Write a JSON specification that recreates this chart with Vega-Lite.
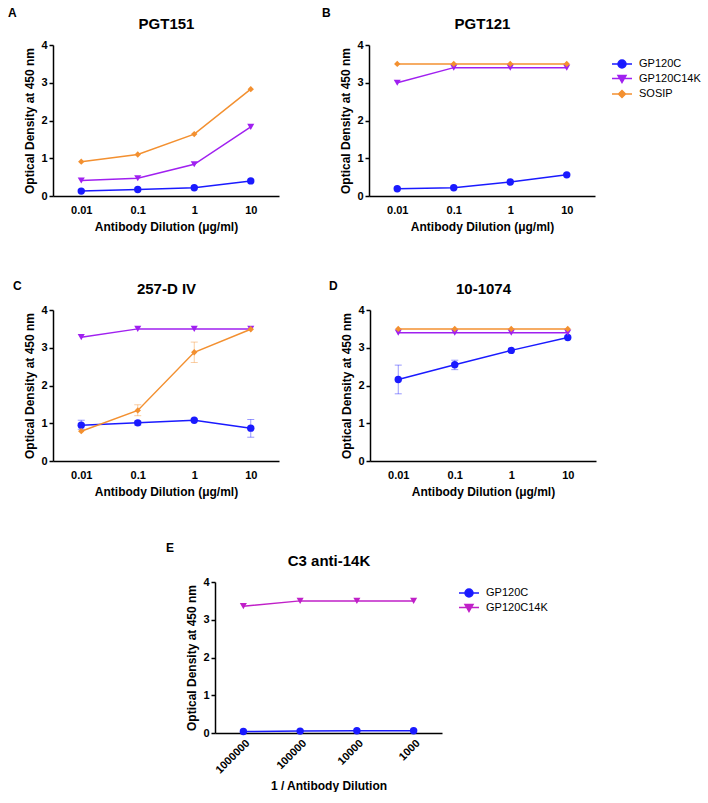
{
  "$schema": "https://vega.github.io/schema/vega-lite/v6.json",
  "padding": {"left": 7, "top": 7, "right": 0, "bottom": 0},
  "config": {
    "font": "Liberation Sans",
    "view": {"stroke": null},
    "axis": {"labelFont": "Liberation Sans", "labelFontWeight": "bold", "labelFontSize": 11, "labelColor": "#000", "titleFont": "Liberation Sans", "titleFontWeight": "bold", "titleFontSize": 12, "titleColor": "#000", "domainColor": "#000", "domainWidth": 1.5, "tickColor": "#000", "tickWidth": 1.5, "grid": false},
    "axisX": {"ticks": false, "labelAngle": 0, "labelPadding": 8, "titlePadding": 6},
    "axisY": {"tickSize": 4, "labelPadding": 2, "titlePadding": 4},
    "title": {"font": "Liberation Sans", "fontSize": 12, "fontWeight": "bold", "color": "#000"},
    "legend": {"labelFont": "Liberation Sans", "labelFontSize": 11, "labelColor": "#000", "symbolSize": 100, "labelOffset": 11, "rowPadding": 1.5}
  },
  "datasets": {
    "A": [
      {"x": "0.01", "s": "GP120C", "v": 0.13}, {"x": "0.1", "s": "GP120C", "v": 0.17}, {"x": "1", "s": "GP120C", "v": 0.22}, {"x": "10", "s": "GP120C", "v": 0.40},
      {"x": "0.01", "s": "GP120C14K", "v": 0.41}, {"x": "0.1", "s": "GP120C14K", "v": 0.47}, {"x": "1", "s": "GP120C14K", "v": 0.84}, {"x": "10", "s": "GP120C14K", "v": 1.83},
      {"x": "0.01", "s": "SOSIP", "v": 0.91}, {"x": "0.1", "s": "SOSIP", "v": 1.10}, {"x": "1", "s": "SOSIP", "v": 1.64}, {"x": "10", "s": "SOSIP", "v": 2.83}
    ],
    "B": [
      {"x": "0.01", "s": "GP120C", "v": 0.19}, {"x": "0.1", "s": "GP120C", "v": 0.22}, {"x": "1", "s": "GP120C", "v": 0.37}, {"x": "10", "s": "GP120C", "v": 0.56},
      {"x": "0.01", "s": "GP120C14K", "v": 3.0}, {"x": "0.1", "s": "GP120C14K", "v": 3.4}, {"x": "1", "s": "GP120C14K", "v": 3.4}, {"x": "10", "s": "GP120C14K", "v": 3.4},
      {"x": "0.01", "s": "SOSIP", "v": 3.5}, {"x": "0.1", "s": "SOSIP", "v": 3.5}, {"x": "1", "s": "SOSIP", "v": 3.5}, {"x": "10", "s": "SOSIP", "v": 3.5}
    ],
    "C": [
      {"x": "0.01", "s": "GP120C", "v": 0.95, "lo": 0.84, "hi": 1.08}, {"x": "0.1", "s": "GP120C", "v": 1.01, "lo": 0.95, "hi": 1.06}, {"x": "1", "s": "GP120C", "v": 1.08}, {"x": "10", "s": "GP120C", "v": 0.87, "lo": 0.63, "hi": 1.10},
      {"x": "0.01", "s": "GP120C14K", "v": 3.28}, {"x": "0.1", "s": "GP120C14K", "v": 3.5}, {"x": "1", "s": "GP120C14K", "v": 3.5}, {"x": "10", "s": "GP120C14K", "v": 3.5},
      {"x": "0.01", "s": "SOSIP", "v": 0.79}, {"x": "0.1", "s": "SOSIP", "v": 1.34, "lo": 1.2, "hi": 1.49}, {"x": "1", "s": "SOSIP", "v": 2.88, "lo": 2.61, "hi": 3.15}, {"x": "10", "s": "SOSIP", "v": 3.49}
    ],
    "D": [
      {"x": "0.01", "s": "GP120C", "v": 2.16, "lo": 1.78, "hi": 2.54}, {"x": "0.1", "s": "GP120C", "v": 2.55, "lo": 2.42, "hi": 2.67}, {"x": "1", "s": "GP120C", "v": 2.93}, {"x": "10", "s": "GP120C", "v": 3.27},
      {"x": "0.01", "s": "GP120C14K", "v": 3.4}, {"x": "0.1", "s": "GP120C14K", "v": 3.4}, {"x": "1", "s": "GP120C14K", "v": 3.4}, {"x": "10", "s": "GP120C14K", "v": 3.4},
      {"x": "0.01", "s": "SOSIP", "v": 3.5}, {"x": "0.1", "s": "SOSIP", "v": 3.5}, {"x": "1", "s": "SOSIP", "v": 3.5}, {"x": "10", "s": "SOSIP", "v": 3.5}
    ],
    "E": [
      {"x": "1000000", "s": "GP120C", "v": 0.04}, {"x": "100000", "s": "GP120C", "v": 0.05}, {"x": "10000", "s": "GP120C", "v": 0.06}, {"x": "1000", "s": "GP120C", "v": 0.06},
      {"x": "1000000", "s": "GP120C14K", "v": 3.36}, {"x": "100000", "s": "GP120C14K", "v": 3.5}, {"x": "10000", "s": "GP120C14K", "v": 3.5}, {"x": "1000", "s": "GP120C14K", "v": 3.5}
    ]
  },
  "vconcat": [
    {
      "hconcat": [
        {
          "width": 226, "height": 151,
          "title": {"text": "A", "anchor": "start", "offset": -4, "dx": -16},
          "data": {"name": "A"},
          "encoding": {
            "x": {"field": "x", "type": "ordinal", "sort": ["0.01", "0.1", "1", "10"], "scale": {"type": "point", "padding": 0.5}, "axis": null},
            "y": {"field": "v", "type": "quantitative", "scale": {"domain": [0, 4], "nice": false}, "axis": {"values": [0, 1, 2, 3, 4]}, "title": "Optical Density at 450 nm"},
            "color": {"field": "s", "type": "nominal", "scale": {"domain": ["GP120C", "GP120C14K", "SOSIP"], "range": ["#1a1aff", "#a020f0", "#f39030"]}, "legend": null}
          },
          "layer": [
            {"mark": {"type": "line", "strokeWidth": 1.5}, "encoding": {"x": {"field": "x", "type": "ordinal", "sort": ["0.01", "0.1", "1", "10"], "scale": {"type": "point", "padding": 0.5}, "axis": {"orient": "bottom"}, "title": "Antibody Dilution (μg/ml)"}}},
            {"transform": [{"filter": "datum.s === 'GP120C'"}], "mark": {"type": "point", "filled": true, "opacity": 1, "size": 55, "shape": "circle"}},
            {"transform": [{"filter": "datum.s === 'GP120C14K'"}], "mark": {"type": "point", "filled": true, "opacity": 1, "size": 50, "shape": "triangle-down"}},
            {"transform": [{"filter": "datum.s === 'SOSIP'"}], "mark": {"type": "point", "filled": true, "opacity": 1, "size": 40, "shape": "diamond"}},
            {"mark": {"type": "point", "opacity": 0}, "encoding": {"x": {"field": "x", "type": "ordinal", "sort": ["0.01", "0.1", "1", "10"], "scale": {"type": "point", "padding": 0.5}, "axis": {"orient": "top", "labels": false, "ticks": false, "domain": false, "titleFontSize": 15, "titlePadding": 14}, "title": "PGT151"}}}
          ],
          "resolve": {"axis": {"x": "independent"}}
        },
        {
          "width": 226, "height": 151,
          "title": {"text": "B", "anchor": "start", "offset": -4, "dx": -18},
          "data": {"name": "B"},
          "encoding": {
            "x": {"field": "x", "type": "ordinal", "sort": ["0.01", "0.1", "1", "10"], "scale": {"type": "point", "padding": 0.5}, "axis": null},
            "y": {"field": "v", "type": "quantitative", "scale": {"domain": [0, 4], "nice": false}, "axis": {"values": [0, 1, 2, 3, 4]}, "title": "Optical Density at 450 nm"},
            "color": {"field": "s", "type": "nominal", "scale": {"domain": ["GP120C", "GP120C14K", "SOSIP"], "range": ["#1a1aff", "#a020f0", "#f39030"]},
              "legend": {"title": null, "orient": "right", "offset": 8, "padding": 13,
                "encode": {"symbols": {"update": {
                  "shape": {"signal": "datum.value === 'GP120C' ? 'M-2,0L2,0M0.8,0A0.8,0.8,0,1,1,-0.8,0A0.8,0.8,0,1,1,0.8,0Z' : datum.value === 'GP120C14K' ? 'M-2,0L2,0M-0.8,-0.6L0.8,-0.6L0,0.8Z' : 'M-2,0L2,0M0,-0.7L0.7,0L0,0.7L-0.7,0Z'"},
                  "fill": {"signal": "datum.value === 'GP120C' ? '#1a1aff' : datum.value === 'GP120C14K' ? '#a020f0' : '#f39030'"},
                  "stroke": {"signal": "datum.value === 'GP120C' ? '#1a1aff' : datum.value === 'GP120C14K' ? '#a020f0' : '#f39030'"},
                  "strokeWidth": {"value": 1.5},
                  "opacity": {"value": 1}
                }}}}}
          },
          "layer": [
            {"mark": {"type": "line", "strokeWidth": 1.5}, "encoding": {"x": {"field": "x", "type": "ordinal", "sort": ["0.01", "0.1", "1", "10"], "scale": {"type": "point", "padding": 0.5}, "axis": {"orient": "bottom"}, "title": "Antibody Dilution (μg/ml)"}}},
            {"transform": [{"filter": "datum.s === 'GP120C'"}], "mark": {"type": "point", "filled": true, "opacity": 1, "size": 55, "shape": "circle"}},
            {"transform": [{"filter": "datum.s === 'GP120C14K'"}], "mark": {"type": "point", "filled": true, "opacity": 1, "size": 50, "shape": "triangle-down"}},
            {"transform": [{"filter": "datum.s === 'SOSIP'"}], "mark": {"type": "point", "filled": true, "opacity": 1, "size": 40, "shape": "diamond"}},
            {"mark": {"type": "point", "opacity": 0}, "encoding": {"x": {"field": "x", "type": "ordinal", "sort": ["0.01", "0.1", "1", "10"], "scale": {"type": "point", "padding": 0.5}, "axis": {"orient": "top", "labels": false, "ticks": false, "domain": false, "titleFontSize": 15, "titlePadding": 14}, "title": "PGT121"}}}
          ],
          "resolve": {"axis": {"x": "independent"}}
        }
      ],
      "spacing": 42,
      "resolve": {"scale": {"color": "independent"}}
    },
    {
      "vconcat": [
        {
          "hconcat": [
            {
              "width": 226, "height": 151,
              "title": {"text": "C", "anchor": "start", "offset": -12, "dx": -11},
              "data": {"name": "C"},
              "encoding": {
                "x": {"field": "x", "type": "ordinal", "sort": ["0.01", "0.1", "1", "10"], "scale": {"type": "point", "padding": 0.5}, "axis": null},
                "color": {"field": "s", "type": "nominal", "scale": {"domain": ["GP120C", "GP120C14K", "SOSIP"], "range": ["#1a1aff", "#a020f0", "#f39030"]}, "legend": null}
              },
              "layer": [
                {"transform": [{"filter": "isValid(datum.lo)"}], "mark": {"type": "rule", "strokeWidth": 1, "opacity": 0.45}, "encoding": {"y": {"field": "lo", "type": "quantitative", "axis": {"values": [0, 1, 2, 3, 4]}}, "y2": {"field": "hi"}}},
                {"transform": [{"filter": "isValid(datum.lo)"}], "mark": {"type": "tick", "thickness": 1, "size": 7, "opacity": 0.45}, "encoding": {"y": {"field": "lo", "type": "quantitative", "axis": {"values": [0, 1, 2, 3, 4]}}}},
                {"transform": [{"filter": "isValid(datum.lo)"}], "mark": {"type": "tick", "thickness": 1, "size": 7, "opacity": 0.45}, "encoding": {"y": {"field": "hi", "type": "quantitative", "axis": {"values": [0, 1, 2, 3, 4]}}}},
                {"mark": {"type": "line", "strokeWidth": 1.5}, "encoding": {"x": {"field": "x", "type": "ordinal", "sort": ["0.01", "0.1", "1", "10"], "scale": {"type": "point", "padding": 0.5}, "axis": {"orient": "bottom"}, "title": "Antibody Dilution (μg/ml)"}, "y": {"field": "v", "type": "quantitative", "scale": {"domain": [0, 4], "nice": false}, "axis": {"values": [0, 1, 2, 3, 4]}, "title": "Optical Density at 450 nm"}}},
                {"transform": [{"filter": "datum.s === 'GP120C'"}], "mark": {"type": "point", "filled": true, "opacity": 1, "size": 55, "shape": "circle"}, "encoding": {"y": {"field": "v", "type": "quantitative", "axis": {"values": [0, 1, 2, 3, 4]}}}},
                {"transform": [{"filter": "datum.s === 'GP120C14K'"}], "mark": {"type": "point", "filled": true, "opacity": 1, "size": 50, "shape": "triangle-down"}, "encoding": {"y": {"field": "v", "type": "quantitative", "axis": {"values": [0, 1, 2, 3, 4]}}}},
                {"transform": [{"filter": "datum.s === 'SOSIP'"}], "mark": {"type": "point", "filled": true, "opacity": 1, "size": 40, "shape": "diamond"}, "encoding": {"y": {"field": "v", "type": "quantitative", "axis": {"values": [0, 1, 2, 3, 4]}}}},
                {"mark": {"type": "point", "opacity": 0}, "encoding": {"y": {"field": "v", "type": "quantitative", "axis": {"values": [0, 1, 2, 3, 4]}}, "x": {"field": "x", "type": "ordinal", "sort": ["0.01", "0.1", "1", "10"], "scale": {"type": "point", "padding": 0.5}, "axis": {"orient": "top", "labels": false, "ticks": false, "domain": false, "titleFontSize": 15, "titlePadding": 14}, "title": "257-D IV"}}}
              ],
              "resolve": {"axis": {"x": "independent"}}
            },
            {
              "width": 226, "height": 151,
              "title": {"text": "D", "anchor": "start", "offset": -12, "dx": -12},
              "data": {"name": "D"},
              "encoding": {
                "x": {"field": "x", "type": "ordinal", "sort": ["0.01", "0.1", "1", "10"], "scale": {"type": "point", "padding": 0.5}, "axis": null},
                "color": {"field": "s", "type": "nominal", "scale": {"domain": ["GP120C", "GP120C14K", "SOSIP"], "range": ["#1a1aff", "#a020f0", "#f39030"]}, "legend": null}
              },
              "layer": [
                {"transform": [{"filter": "isValid(datum.lo)"}], "mark": {"type": "rule", "strokeWidth": 1, "opacity": 0.45}, "encoding": {"y": {"field": "lo", "type": "quantitative", "axis": {"values": [0, 1, 2, 3, 4]}}, "y2": {"field": "hi"}}},
                {"transform": [{"filter": "isValid(datum.lo)"}], "mark": {"type": "tick", "thickness": 1, "size": 7, "opacity": 0.45}, "encoding": {"y": {"field": "lo", "type": "quantitative", "axis": {"values": [0, 1, 2, 3, 4]}}}},
                {"transform": [{"filter": "isValid(datum.lo)"}], "mark": {"type": "tick", "thickness": 1, "size": 7, "opacity": 0.45}, "encoding": {"y": {"field": "hi", "type": "quantitative", "axis": {"values": [0, 1, 2, 3, 4]}}}},
                {"mark": {"type": "line", "strokeWidth": 1.5}, "encoding": {"x": {"field": "x", "type": "ordinal", "sort": ["0.01", "0.1", "1", "10"], "scale": {"type": "point", "padding": 0.5}, "axis": {"orient": "bottom"}, "title": "Antibody Dilution (μg/ml)"}, "y": {"field": "v", "type": "quantitative", "scale": {"domain": [0, 4], "nice": false}, "axis": {"values": [0, 1, 2, 3, 4]}, "title": "Optical Density at 450 nm"}}},
                {"transform": [{"filter": "datum.s === 'GP120C'"}], "mark": {"type": "point", "filled": true, "opacity": 1, "size": 55, "shape": "circle"}, "encoding": {"y": {"field": "v", "type": "quantitative", "axis": {"values": [0, 1, 2, 3, 4]}}}},
                {"transform": [{"filter": "datum.s === 'GP120C14K'"}], "mark": {"type": "point", "filled": true, "opacity": 1, "size": 50, "shape": "triangle-down"}, "encoding": {"y": {"field": "v", "type": "quantitative", "axis": {"values": [0, 1, 2, 3, 4]}}}},
                {"transform": [{"filter": "datum.s === 'SOSIP'"}], "mark": {"type": "point", "filled": true, "opacity": 1, "size": 40, "shape": "diamond"}, "encoding": {"y": {"field": "v", "type": "quantitative", "axis": {"values": [0, 1, 2, 3, 4]}}}},
                {"mark": {"type": "point", "opacity": 0}, "encoding": {"y": {"field": "v", "type": "quantitative", "axis": {"values": [0, 1, 2, 3, 4]}}, "x": {"field": "x", "type": "ordinal", "sort": ["0.01", "0.1", "1", "10"], "scale": {"type": "point", "padding": 0.5}, "axis": {"orient": "top", "labels": false, "ticks": false, "domain": false, "titleFontSize": 15, "titlePadding": 14}, "title": "10-1074"}}}
              ],
              "resolve": {"axis": {"x": "independent"}}
            }
          ],
          "spacing": 49,
          "resolve": {"scale": {"color": "independent"}}
        },
        {
          "hconcat": [
            {
              "width": 112, "height": 10,
              "data": {"values": [{"a": 1}]},
              "mark": {"type": "point", "opacity": 0}
            },
            {
              "width": 227, "height": 151,
              "title": {"text": "E", "anchor": "start", "offset": -2, "dx": -20},
              "data": {"name": "E"},
              "encoding": {
                "x": {"field": "x", "type": "ordinal", "sort": ["1000000", "100000", "10000", "1000"], "scale": {"type": "point", "padding": 0.5}, "axis": null},
                "y": {"field": "v", "type": "quantitative", "scale": {"domain": [0, 4], "nice": false}, "axis": {"values": [0, 1, 2, 3, 4]}, "title": "Optical Density at 450 nm"},
                "color": {"field": "s", "type": "nominal", "scale": {"domain": ["GP120C", "GP120C14K"], "range": ["#1a1aff", "#c020c8"]},
                  "legend": {"title": null, "orient": "right", "offset": 16, "padding": 5,
                    "encode": {"symbols": {"update": {
                      "shape": {"signal": "datum.value === 'GP120C' ? 'M-2,0L2,0M0.8,0A0.8,0.8,0,1,1,-0.8,0A0.8,0.8,0,1,1,0.8,0Z' : 'M-2,0L2,0M-0.8,-0.6L0.8,-0.6L0,0.8Z'"},
                      "fill": {"signal": "datum.value === 'GP120C' ? '#1a1aff' : '#c020c8'"},
                      "stroke": {"signal": "datum.value === 'GP120C' ? '#1a1aff' : '#c020c8'"},
                      "strokeWidth": {"value": 1.5},
                      "opacity": {"value": 1}
                    }}}}}
              },
              "layer": [
                {"mark": {"type": "line", "strokeWidth": 1.5}, "encoding": {"x": {"field": "x", "type": "ordinal", "sort": ["1000000", "100000", "10000", "1000"], "scale": {"type": "point", "padding": 0.5}, "axis": {"orient": "bottom", "labelAngle": -45, "labelPadding": 4, "titlePadding": 5}, "title": "1 / Antibody Dilution"}}},
                {"transform": [{"filter": "datum.s === 'GP120C'"}], "mark": {"type": "point", "filled": true, "opacity": 1, "size": 55, "shape": "circle"}},
                {"transform": [{"filter": "datum.s === 'GP120C14K'"}], "mark": {"type": "point", "filled": true, "opacity": 1, "size": 50, "shape": "triangle-down"}},
                {"mark": {"type": "point", "opacity": 0}, "encoding": {"x": {"field": "x", "type": "ordinal", "sort": ["1000000", "100000", "10000", "1000"], "scale": {"type": "point", "padding": 0.5}, "axis": {"orient": "top", "labels": false, "ticks": false, "domain": false, "titleFontSize": 15, "titlePadding": 14}, "title": "C3 anti-14K"}}}
              ],
              "resolve": {"axis": {"x": "independent"}}
            }
          ],
          "spacing": 0,
          "resolve": {"scale": {"color": "independent"}}
        }
      ],
      "spacing": 45,
      "resolve": {"scale": {"color": "independent"}}
    }
  ],
  "spacing": 48,
  "resolve": {"scale": {"color": "independent"}}
}
